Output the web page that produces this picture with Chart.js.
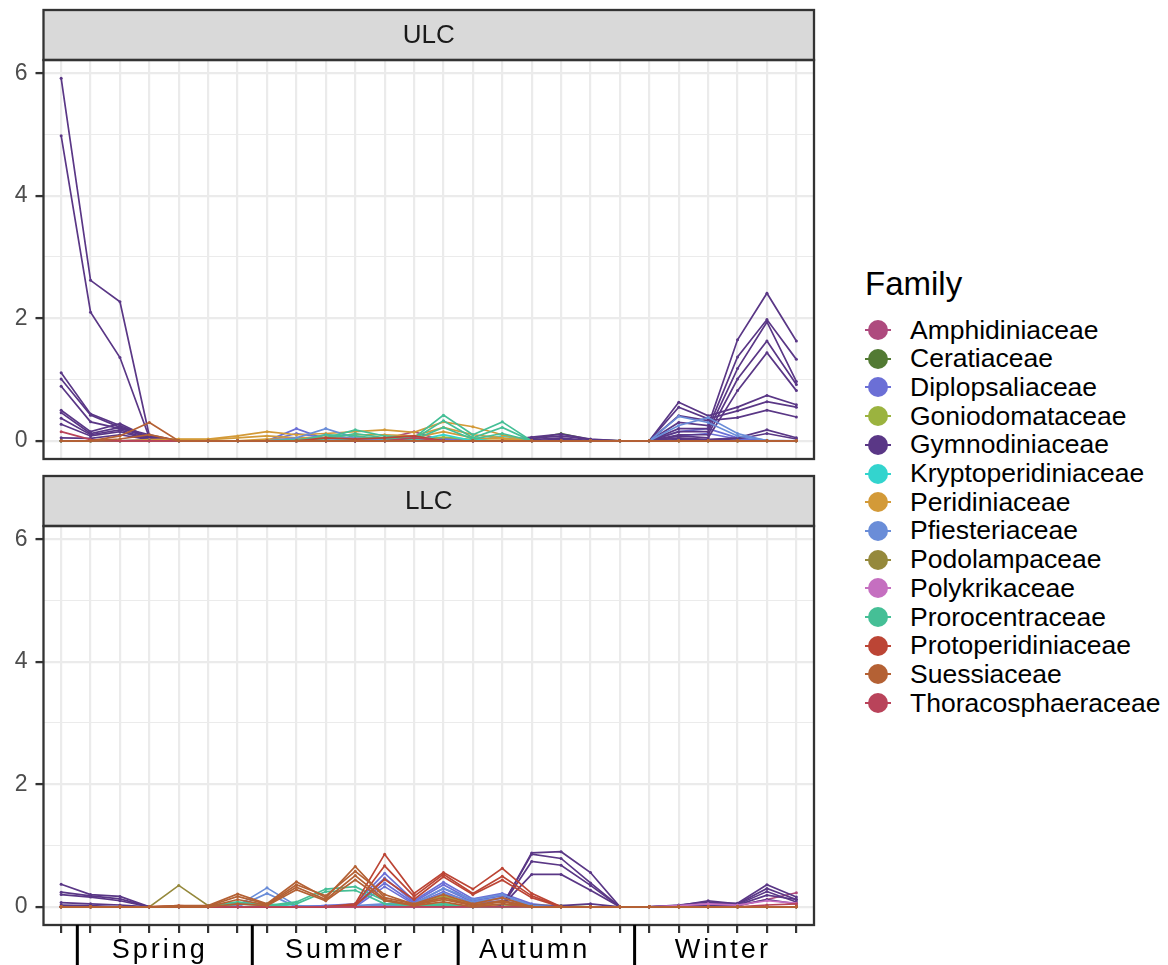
<!DOCTYPE html>
<html>
<head>
<meta charset="utf-8">
<script src="https://cdn.jsdelivr.net/npm/chart.js@4.4.1/dist/chart.umd.min.js"></script>
<style>
  body { margin: 0; background: #fff; font-family: "Liberation Sans", Arial, Helvetica, sans-serif; }
  #wrap { position: relative; width: 1168px; height: 965px; overflow: hidden; background: #fff; }
  canvas { position: absolute; left: 0; }
  #ulc { top: 0; }
  #llc { top: 466px; }
  .ttl { position: absolute; left: 865px; top: 267px; font-size: 33px; line-height: 33px; color: #000; }
  .item { position: absolute; left: 862px; height: 28px; display: flex; align-items: center; font-size: 26.5px; color: #000; white-space: nowrap; }
  .key { position: relative; width: 32px; height: 22px; margin-right: 16px; }
  .key .seg { position: absolute; left: 3px; right: 3px; top: 10px; height: 2px; }
  .key .dot { position: absolute; left: 6px; top: 1px; width: 20px; height: 20px; border-radius: 50%; }
</style>
</head>
<body>
<div id="wrap">
  <canvas id="ulc" width="830" height="499"></canvas>
  <canvas id="llc" width="830" height="499"></canvas>
  <div id="legend"></div>
</div>
<script>
// sample index along the year (x1 .. x26)
const samples = [1, 2, 3, 4, 5, 6, 7, 8, 9, 10, 11, 12, 13, 14, 15, 16, 17, 18, 19, 20, 21, 22, 23, 24, 25, 26];

const families = ['Amphidiniaceae', 'Ceratiaceae', 'Diplopsaliaceae', 'Goniodomataceae', 'Gymnodiniaceae',
  'Kryptoperidiniaceae', 'Peridiniaceae', 'Pfiesteriaceae', 'Podolampaceae', 'Polykrikaceae',
  'Prorocentraceae', 'Protoperidiniaceae', 'Suessiaceae', 'Thoracosphaeraceae'];
const familyColors = ['#AE4A7E', '#527A33', '#6B6FD6', '#9BB33F', '#5A3786',
  '#33D4CE', '#D39A38', '#6A8DD8', '#95893C', '#C56FC0',
  '#45BF96', '#BC4535', '#B46134', '#B9435A'];

const seasons = ['Spring', 'Summer', 'Autumn', 'Winter'];
const seasonBreaks = [1.55, 7.5, 14.5, 20.5];
const seasonCentres = [4.3, 10.6, 17.05, 23.45];

const yTicks = [0, 1, 2, 3, 4, 5, 6];

// ---- ULC (upper layer) ----
const ulcGymnodiniaceae = [
  [5.92, 2.62, 2.27, 0.08, 0, 0, 0, 0, 0, 0, 0, 0, 0, 0, 0, 0, 0.06, 0.11, 0.03, 0, 0, 0.30, 0.25, 1.65, 2.41, 1.63],
  [4.98, 2.10, 1.36, 0.05, 0, 0, 0, 0, 0, 0, 0, 0, 0, 0, 0, 0, 0.04, 0.08, 0.02, 0, 0, 0.20, 0.20, 1.37, 1.98, 1.33],
  [1.11, 0.44, 0.25, 0.05, 0, 0, 0, 0, 0, 0, 0, 0, 0, 0, 0, 0, 0.02, 0.05, 0, 0, 0, 0.15, 0.15, 1.18, 1.94, 0.97],
  [1.01, 0.42, 0.22, 0.10, 0, 0, 0, 0, 0, 0, 0, 0, 0, 0, 0, 0, 0, 0.03, 0, 0, 0, 0.10, 0.10, 1.01, 1.63, 0.92],
  [0.89, 0.31, 0.20, 0.08, 0, 0, 0, 0, 0, 0, 0, 0, 0, 0, 0, 0, 0, 0, 0, 0, 0, 0.08, 0.05, 0.82, 1.44, 0.82],
  [0.50, 0.15, 0.28, 0.05, 0, 0, 0, 0, 0, 0, 0, 0, 0, 0, 0, 0, 0, 0, 0, 0, 0, 0.63, 0.41, 0.55, 0.74, 0.59],
  [0.46, 0.12, 0.22, 0.04, 0, 0, 0, 0, 0, 0, 0, 0, 0, 0, 0, 0, 0, 0, 0, 0, 0, 0.55, 0.36, 0.49, 0.64, 0.55],
  [0.37, 0.10, 0.18, 0.03, 0, 0, 0, 0, 0, 0, 0, 0, 0, 0, 0, 0, 0, 0, 0, 0, 0, 0.41, 0.33, 0.38, 0.50, 0.39],
  [0.27, 0.08, 0.15, 0.02, 0, 0, 0, 0, 0, 0, 0, 0, 0, 0, 0, 0, 0, 0, 0, 0, 0, 0.05, 0.02, 0.05, 0.18, 0.05],
  [0.05, 0.04, 0.10, 0.02, 0, 0, 0, 0, 0, 0, 0, 0, 0, 0, 0, 0, 0, 0, 0, 0, 0, 0.02, 0.02, 0.03, 0.12, 0.03]
];
const ulcPfiesteriaceae = [
  [0, 0, 0, 0, 0, 0, 0, 0, 0.05, 0.20, 0.05, 0.02, 0, 0, 0, 0, 0, 0, 0, 0, 0, 0.40, 0.30, 0.08, 0.01, 0],
  [0, 0, 0, 0, 0, 0, 0, 0, 0, 0.10, 0.03, 0, 0, 0, 0, 0, 0, 0, 0, 0, 0, 0.25, 0.38, 0.12, 0, 0]
];
const ulcDiplopsaliaceae = [
  [0, 0, 0, 0.02, 0, 0, 0, 0, 0.20, 0.03, 0.05, 0.02, 0.03, 0.05, 0, 0, 0, 0, 0, 0, 0, 0.15, 0.20, 0.05, 0, 0],
  [0, 0, 0, 0, 0, 0, 0, 0, 0.12, 0.05, 0, 0, 0, 0.02, 0, 0, 0, 0, 0, 0, 0, 0.08, 0.12, 0.03, 0, 0]
];
const ulcPeridiniaceae = [
  [0, 0, 0, 0.02, 0.03, 0.03, 0.08, 0.15, 0.10, 0.12, 0.15, 0.18, 0.14, 0.31, 0.23, 0.10, 0, 0, 0, 0, 0, 0, 0, 0, 0, 0],
  [0, 0, 0, 0, 0.02, 0.02, 0.05, 0.08, 0.05, 0.06, 0.10, 0.10, 0.08, 0.22, 0.10, 0.05, 0, 0, 0, 0, 0, 0, 0, 0, 0, 0],
  [0, 0, 0, 0, 0, 0, 0, 0.03, 0.03, 0.04, 0.05, 0.05, 0.05, 0.15, 0.05, 0.03, 0, 0, 0, 0, 0, 0, 0, 0, 0, 0]
];
const ulcProrocentraceae = [
  [0, 0, 0, 0, 0, 0, 0, 0, 0.02, 0.05, 0.18, 0.08, 0.05, 0.42, 0.10, 0.31, 0, 0, 0, 0, 0, 0, 0, 0, 0, 0],
  [0, 0, 0, 0, 0, 0, 0, 0, 0, 0.03, 0.12, 0.05, 0.03, 0.33, 0.05, 0.22, 0, 0, 0, 0, 0, 0, 0, 0, 0, 0],
  [0, 0, 0, 0, 0, 0, 0, 0, 0, 0.10, 0.08, 0.03, 0.02, 0.22, 0.03, 0.12, 0, 0, 0, 0, 0, 0, 0, 0, 0, 0]
];
const ulcCeratiaceae = [
  [0, 0, 0, 0, 0, 0, 0, 0, 0, 0, 0, 0, 0, 0, 0, 0, 0.03, 0.12, 0.02, 0, 0, 0, 0, 0, 0, 0]
];
const ulcAmphidiniaceae = [
  [0, 0, 0, 0, 0, 0, 0, 0, 0, 0, 0, 0.03, 0.15, 0, 0, 0, 0, 0, 0, 0, 0, 0, 0, 0, 0, 0]
];
const ulcThoracosphaeraceae = [
  [0.15, 0.02, 0, 0, 0, 0, 0, 0, 0, 0, 0, 0, 0.05, 0, 0, 0, 0, 0, 0, 0, 0, 0, 0, 0, 0, 0]
];
const ulcProtoperidiniaceae = [
  [0, 0, 0, 0, 0, 0, 0, 0, 0, 0.05, 0.03, 0.05, 0.08, 0, 0, 0, 0, 0, 0, 0, 0, 0, 0, 0, 0, 0]
];
const ulcKryptoperidiniaceae = [
  [0, 0, 0, 0, 0, 0, 0, 0, 0, 0, 0.03, 0, 0, 0.10, 0, 0.08, 0, 0, 0, 0, 0, 0, 0, 0, 0, 0]
];
const ulcGoniodomataceae = [
  [0, 0, 0, 0, 0, 0, 0, 0, 0, 0, 0, 0, 0, 0.06, 0.02, 0, 0, 0, 0, 0, 0, 0, 0, 0, 0, 0]
];
const ulcSuessiaceae = [
  [0, 0, 0.08, 0.30, 0, 0, 0, 0, 0, 0, 0, 0, 0, 0, 0, 0, 0, 0, 0, 0, 0, 0, 0, 0, 0, 0],
  [0, 0, 0.03, 0.10, 0, 0, 0, 0, 0, 0, 0, 0, 0, 0, 0, 0, 0, 0, 0, 0, 0, 0, 0, 0, 0, 0]
];

// ---- LLC (lower layer) ----
const llcGymnodiniaceae = [
  [0.37, 0.20, 0.17, 0, 0, 0, 0, 0, 0, 0, 0, 0, 0, 0, 0, 0.02, 0.88, 0.90, 0.56, 0, 0, 0.02, 0.05, 0.06, 0.36, 0.16],
  [0.24, 0.18, 0.13, 0, 0, 0, 0, 0, 0, 0, 0, 0, 0, 0, 0, 0.02, 0.86, 0.79, 0.39, 0, 0, 0.02, 0.10, 0.05, 0.30, 0.12],
  [0.20, 0.16, 0.10, 0, 0, 0, 0, 0, 0, 0, 0, 0, 0, 0, 0, 0.02, 0.74, 0.68, 0.35, 0, 0, 0.03, 0.08, 0.04, 0.25, 0.08],
  [0.07, 0.05, 0.03, 0, 0, 0, 0, 0, 0, 0, 0, 0, 0, 0, 0, 0.02, 0.53, 0.53, 0.27, 0, 0, 0.01, 0.04, 0.03, 0.19, 0.12],
  [0.03, 0.02, 0, 0, 0, 0, 0, 0, 0, 0, 0, 0, 0, 0, 0, 0, 0.02, 0.02, 0.05, 0, 0, 0.01, 0.02, 0.02, 0.12, 0.05]
];
const llcProtoperidiniaceae = [
  [0, 0, 0, 0, 0.02, 0, 0, 0, 0, 0, 0.05, 0.86, 0.22, 0.56, 0.29, 0.63, 0.22, 0, 0, 0, 0, 0, 0, 0, 0, 0],
  [0, 0, 0, 0, 0, 0, 0, 0, 0, 0, 0.03, 0.67, 0.17, 0.53, 0.22, 0.50, 0.18, 0, 0, 0, 0, 0, 0, 0, 0, 0],
  [0, 0, 0, 0, 0, 0, 0, 0, 0, 0, 0.02, 0.45, 0.12, 0.49, 0.20, 0.44, 0.15, 0, 0, 0, 0, 0, 0, 0, 0, 0]
];
const llcDiplopsaliaceae = [
  [0, 0, 0, 0, 0, 0, 0, 0, 0, 0.02, 0.05, 0.55, 0.10, 0.40, 0.13, 0.22, 0.05, 0, 0, 0, 0, 0, 0, 0, 0, 0],
  [0, 0, 0, 0, 0, 0, 0, 0, 0, 0.02, 0.03, 0.47, 0.08, 0.36, 0.10, 0.18, 0.03, 0, 0, 0, 0, 0, 0, 0, 0, 0],
  [0, 0, 0, 0, 0, 0, 0, 0, 0, 0, 0.02, 0.39, 0.06, 0.30, 0.08, 0.14, 0.02, 0, 0, 0, 0, 0, 0, 0, 0, 0],
  [0, 0, 0, 0, 0, 0, 0, 0, 0, 0, 0, 0.33, 0.04, 0.25, 0.06, 0.10, 0, 0, 0, 0, 0, 0, 0, 0, 0, 0]
];
const llcSuessiaceae = [
  [0, 0, 0, 0, 0.02, 0.02, 0.21, 0.05, 0.41, 0.15, 0.66, 0.15, 0.05, 0.20, 0.05, 0.15, 0, 0, 0, 0, 0, 0, 0, 0, 0, 0],
  [0, 0, 0, 0, 0.01, 0.01, 0.17, 0.04, 0.36, 0.18, 0.58, 0.20, 0.04, 0.15, 0.03, 0.10, 0, 0, 0, 0, 0, 0, 0, 0, 0, 0],
  [0, 0, 0, 0, 0, 0, 0.12, 0.03, 0.32, 0.12, 0.51, 0.12, 0.03, 0.12, 0.02, 0.08, 0, 0, 0, 0, 0, 0, 0, 0, 0, 0],
  [0, 0, 0, 0, 0, 0, 0.05, 0.02, 0.28, 0.10, 0.44, 0.10, 0.02, 0.08, 0, 0.05, 0, 0, 0, 0, 0, 0, 0, 0, 0, 0]
];
const llcProrocentraceae = [
  [0, 0, 0, 0, 0, 0.02, 0.08, 0.02, 0.08, 0.29, 0.33, 0.10, 0.02, 0.05, 0, 0, 0, 0, 0, 0, 0, 0, 0, 0, 0, 0],
  [0, 0, 0, 0, 0, 0, 0.05, 0.02, 0.05, 0.25, 0.27, 0.05, 0.02, 0.03, 0, 0, 0, 0, 0, 0, 0, 0, 0, 0, 0, 0]
];
const llcPfiesteriaceae = [
  [0, 0, 0, 0, 0, 0, 0.02, 0.31, 0.02, 0, 0.02, 0.05, 0.05, 0.30, 0.12, 0.20, 0.02, 0, 0, 0, 0, 0, 0, 0, 0, 0],
  [0, 0, 0, 0, 0, 0, 0, 0.22, 0, 0, 0, 0.03, 0.03, 0.22, 0.08, 0.15, 0, 0, 0, 0, 0, 0, 0, 0, 0, 0]
];
const llcGoniodomataceae = [
  [0, 0, 0, 0, 0, 0, 0, 0, 0, 0, 0, 0, 0.04, 0.17, 0.05, 0.03, 0.02, 0.02, 0, 0, 0, 0, 0, 0, 0, 0]
];
const llcPodolampaceae = [
  [0, 0, 0, 0, 0.35, 0.02, 0, 0, 0, 0, 0, 0, 0, 0, 0, 0, 0, 0, 0, 0, 0, 0, 0, 0, 0, 0]
];
const llcPeridiniaceae = [
  [0, 0, 0, 0, 0, 0, 0, 0, 0, 0, 0, 0, 0.05, 0.12, 0.05, 0, 0, 0, 0, 0, 0, 0, 0, 0, 0, 0]
];
const llcAmphidiniaceae = [
  [0, 0, 0, 0, 0, 0, 0, 0, 0, 0, 0, 0, 0, 0, 0, 0, 0, 0, 0, 0, 0, 0, 0, 0.02, 0.12, 0.23]
];
const llcPolykrikaceae = [
  [0, 0, 0, 0, 0, 0, 0, 0, 0, 0, 0, 0, 0, 0, 0, 0, 0, 0, 0, 0, 0, 0.02, 0.05, 0.03, 0.10, 0.06]
];
const llcKryptoperidiniaceae = [
  [0, 0, 0, 0, 0, 0, 0.06, 0.05, 0, 0, 0, 0, 0, 0.05, 0, 0, 0, 0, 0, 0, 0, 0, 0, 0, 0, 0]
];
const llcThoracosphaeraceae = [
  [0, 0, 0, 0, 0, 0, 0, 0, 0, 0, 0, 0, 0, 0, 0, 0, 0, 0, 0, 0, 0, 0, 0, 0, 0.03, 0.05]
];

// drawing order: later entries end up on top
const ulcLines = [
  ['Amphidiniaceae', ulcAmphidiniaceae], ['Ceratiaceae', ulcCeratiaceae], ['Diplopsaliaceae', ulcDiplopsaliaceae],
  ['Goniodomataceae', ulcGoniodomataceae], ['Gymnodiniaceae', ulcGymnodiniaceae], ['Kryptoperidiniaceae', ulcKryptoperidiniaceae],
  ['Peridiniaceae', ulcPeridiniaceae], ['Pfiesteriaceae', ulcPfiesteriaceae], ['Prorocentraceae', ulcProrocentraceae],
  ['Protoperidiniaceae', ulcProtoperidiniaceae], ['Thoracosphaeraceae', ulcThoracosphaeraceae], ['Suessiaceae', ulcSuessiaceae]
];
const llcLines = [
  ['Amphidiniaceae', llcAmphidiniaceae], ['Diplopsaliaceae', llcDiplopsaliaceae], ['Goniodomataceae', llcGoniodomataceae],
  ['Gymnodiniaceae', llcGymnodiniaceae], ['Kryptoperidiniaceae', llcKryptoperidiniaceae], ['Peridiniaceae', llcPeridiniaceae],
  ['Pfiesteriaceae', llcPfiesteriaceae], ['Podolampaceae', llcPodolampaceae], ['Polykrikaceae', llcPolykrikaceae],
  ['Prorocentraceae', llcProrocentraceae], ['Protoperidiniaceae', llcProtoperidiniaceae],
  ['Thoracosphaeraceae', llcThoracosphaeraceae], ['Suessiaceae', llcSuessiaceae]
];

const FONT = '"Liberation Sans", Arial, Helvetica, sans-serif';

// strip, panel frame and (bottom panel only) season axis
const facetPlugin = {
  id: 'facet',
  afterDraw(chart, args, opts) {
    const ctx = chart.ctx;
    const a = chart.chartArea;
    ctx.save();
    ctx.fillStyle = '#D9D9D9';
    ctx.fillRect(a.left, 10, a.right - a.left, a.top - 10);
    ctx.strokeStyle = '#333333';
    ctx.lineWidth = 2.3;
    ctx.strokeRect(a.left, 10, a.right - a.left, a.top - 10);
    ctx.strokeRect(a.left, a.top, a.right - a.left, a.bottom - a.top);

    ctx.fillStyle = '#1A1A1A';
    ctx.font = '26px ' + FONT;
    ctx.textAlign = 'center';
    ctx.textBaseline = 'middle';
    ctx.fillText(opts.title, (a.left + a.right) / 2, (10 + a.top) / 2 + 1);

    if (opts.seasons) {
      const x = chart.scales.x;
      ctx.strokeStyle = '#000';
      ctx.lineWidth = 3;
      seasonBreaks.forEach(v => {
        const px = x.getPixelForValue(v);
        ctx.beginPath();
        ctx.moveTo(px, a.bottom);
        ctx.lineTo(px, chart.height);
        ctx.stroke();
      });
      ctx.fillStyle = '#000';
      ctx.font = '27px ' + FONT;
      ctx.textBaseline = 'alphabetic';
      ctx.letterSpacing = '3px';
      seasons.forEach((s, i) => {
        ctx.fillText(s, x.getPixelForValue(seasonCentres[i]) + 1.5, a.bottom + 33);
      });
    }
    ctx.restore();
  }
};

function makePanel(id, title, lines, withSeasons) {
  const canvas = document.getElementById(id);
  const datasets = [];
  lines.forEach(([fam, rows]) => {
    const col = familyColors[families.indexOf(fam)];
    rows.forEach(vals => {
      datasets.push({
        label: fam,
        data: vals,
        borderColor: col,
        backgroundColor: col,
        borderWidth: 1.7,
        pointRadius: 1.5,
        pointBorderWidth: 0,
        pointBackgroundColor: col,
        tension: 0
      });
    });
  });
  datasets.forEach((d, i) => { d.order = -i; });

  return new Chart(canvas, {
    type: 'line',
    data: { labels: samples, datasets },
    options: {
      responsive: false,
      animation: false,
      devicePixelRatio: 1,
      layout: { padding: { left: 0, top: 60, right: canvas.width - 814, bottom: canvas.height - 459 } },
      plugins: {
        legend: { display: false },
        tooltip: { enabled: false },
        facet: { title, seasons: withSeasons }
      },
      scales: {
        x: {
          type: 'linear',
          min: 0.4,
          max: 26.6,
          afterBuildTicks: s => { s.ticks = samples.map(v => ({ value: v })); },
          afterFit: s => { s.height = 0; },
          ticks: { display: false },
          border: { display: false },
          grid: {
            color: '#EBEBEB',
            lineWidth: 2.2,
            drawTicks: withSeasons,
            tickLength: 8,
            tickColor: '#333333',
            tickWidth: 2.2
          }
        },
        y: {
          min: -0.296,
          max: 6.216,
          afterBuildTicks: s => { s.ticks = yTicks.map(v => ({ value: v })); },
          afterFit: s => { s.width = 43.5; },
          border: { display: false },
          ticks: {
            autoSkip: false,
            padding: 8,
            color: '#4D4D4D',
            font: { size: 23, family: FONT },
            callback: v => (v % 2 === 0 ? String(v) : '')
          },
          grid: {
            color: '#EBEBEB',
            lineWidth: c => (c.tick && c.tick.value % 2 === 0 ? 2.2 : 1.1),
            tickLength: 8,
            tickColor: c => (c.tick && c.tick.value % 2 === 0 ? '#333333' : 'rgba(0,0,0,0)'),
            tickWidth: 2.3
          }
        }
      }
    },
    plugins: [facetPlugin]
  });
}

makePanel('ulc', 'ULC', ulcLines, false);
makePanel('llc', 'LLC', llcLines, true);

// legend
const legend = document.getElementById('legend');
const ttl = document.createElement('div');
ttl.className = 'ttl';
ttl.textContent = 'Family';
legend.appendChild(ttl);
families.forEach((fam, i) => {
  const row = document.createElement('div');
  row.className = 'item';
  row.style.top = (330 - 14 + i * 28.7) + 'px';
  row.innerHTML = '<span class="key"><span class="seg" style="background:' + familyColors[i] +
    '"></span><span class="dot" style="background:' + familyColors[i] + '"></span></span>' + fam;
  legend.appendChild(row);
});
</script>
</body>
</html>
